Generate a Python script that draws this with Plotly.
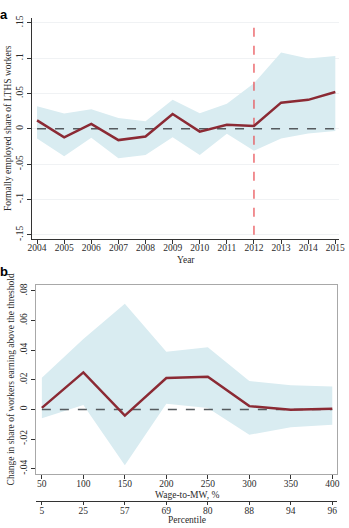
import plotly.graph_objects as go

# Panel a data
years = [2004, 2005, 2006, 2007, 2008, 2009, 2010, 2011, 2012, 2013, 2014, 2015]
coef_a = [0.012, -0.012, 0.007, -0.016, -0.011, 0.021, -0.004, 0.0056, 0.004, 0.037, 0.041, 0.052]
upper_a = [0.032, 0.0215, 0.0276, 0.0154, 0.0107, 0.041, 0.022, 0.0355, 0.0645, 0.108, 0.0995, 0.103]
lower_a = [-0.0136, -0.039, -0.0126, -0.0416, -0.037, -0.012, -0.037, -0.007, -0.031, -0.0136, -0.0066, -0.003]
policy_year = 2012
ytick_a = [-0.15, -0.1, -0.05, 0, 0.05, 0.1, 0.15]
ytext_a = ["-.15", "-.1", "-.05", "0", ".05", ".1", ".15"]

# Panel b data
wage_mw = [50, 100, 150, 200, 250, 300, 350, 400]
percentile = ["5", "25", "57", "69", "80", "88", "94", "96"]
coef_b = [0.001, 0.025, -0.0042, 0.0212, 0.022, 0.0022, -0.0002, 0.0004]
upper_b = [0.0214, 0.0475, 0.0713, 0.039, 0.042, 0.0192, 0.0163, 0.0154]
lower_b = [-0.006, 0.0029, -0.0377, 0.0038, 0.001, -0.0172, -0.012, -0.0103]
ytick_b = [-0.04, -0.02, 0, 0.02, 0.04, 0.06, 0.08]
ytext_b = ["-.04", "-.02", "0", ".02", ".04", ".06", ".08"]

LINE = "#8b2a34"
BAND = "#d9ecf1"
FONT = "Liberation Serif"
TXT = "#2b2b2b"

fig = go.Figure()

# Panel a
fig.add_trace(go.Scatter(x=years, y=lower_a, mode="lines", line=dict(width=0, color=BAND),
                         hoverinfo="skip", showlegend=False, xaxis="x", yaxis="y"))
fig.add_trace(go.Scatter(x=years, y=upper_a, mode="lines", line=dict(width=0, color=BAND),
                         fill="tonexty", fillcolor=BAND, showlegend=False, xaxis="x", yaxis="y"))
fig.add_trace(go.Scatter(x=[years[0], years[-1]], y=[0, 0], mode="lines",
                         line=dict(color="#555a5e", width=1.5, dash="dash"),
                         showlegend=False, xaxis="x", yaxis="y"))
fig.add_trace(go.Scatter(x=[policy_year, policy_year], y=[ytick_a[0], ytick_a[-1]], mode="lines",
                         line=dict(color="#e8474c", width=1.2, dash="dash"),
                         showlegend=False, xaxis="x", yaxis="y"))
fig.add_trace(go.Scatter(x=years, y=coef_a, mode="lines", line=dict(color=LINE, width=2.5),
                         showlegend=False, xaxis="x", yaxis="y"))

# Panel b
fig.add_trace(go.Scatter(x=wage_mw, y=lower_b, mode="lines", line=dict(width=0, color=BAND),
                         hoverinfo="skip", showlegend=False, xaxis="x2", yaxis="y2"))
fig.add_trace(go.Scatter(x=wage_mw, y=upper_b, mode="lines", line=dict(width=0, color=BAND),
                         fill="tonexty", fillcolor=BAND, showlegend=False, xaxis="x2", yaxis="y2"))
fig.add_trace(go.Scatter(x=[wage_mw[0], wage_mw[-1]], y=[0, 0], mode="lines",
                         line=dict(color="#555a5e", width=1.5, dash="dash"),
                         showlegend=False, xaxis="x2", yaxis="y2"))
fig.add_trace(go.Scatter(x=wage_mw, y=coef_b, mode="lines", line=dict(color=LINE, width=2.5),
                         showlegend=False, xaxis="x2", yaxis="y2"))
# invisible trace for percentile axis
fig.add_trace(go.Scatter(x=wage_mw, y=coef_b, mode="lines", line=dict(width=0),
                         opacity=0, hoverinfo="skip", showlegend=False, xaxis="x3", yaxis="y2"))

W, H = 349, 528
tickfont = dict(family=FONT, size=9.5, color=TXT)
titlefont = dict(family=FONT, size=9.5, color=TXT)

fig.update_layout(
    width=W, height=H, margin=dict(l=0, r=0, t=0, b=0),
    paper_bgcolor="white", plot_bgcolor="white",
    font=dict(family=FONT, color=TXT),
    xaxis=dict(domain=[29 / W, 345 / W], anchor="y", range=[2003.82, 2015.14],
               tickvals=years, ticks="outside", ticklen=4, tickcolor="#333",
               showline=True, linecolor="#333", linewidth=1, showgrid=False, zeroline=False,
               tickfont=tickfont, ticklabeloverflow="allow", ticklabelstandoff=-4),
    yaxis=dict(domain=[1 - 238 / H, 1 - 15 / H], anchor="x", range=[-0.1556, 0.157],
               tickvals=ytick_a, ticktext=ytext_a, tickangle=-90, ticks="outside", ticklen=4,
               tickcolor="#333", showline=True, linecolor="#333", linewidth=1,
               showgrid=True, gridcolor="#f0f2f4", gridwidth=1, zeroline=False,
               tickfont=tickfont,
               title=dict(text="Formally employed share of LTHS workers", font=titlefont, standoff=2)),
    xaxis2=dict(domain=[33 / W, 343 / W], anchor="y2", range=[43, 405.9],
                tickvals=wage_mw, ticks="outside", ticklen=4, tickcolor="#333",
                showline=True, linecolor="#a8a8a8", linewidth=1, mirror=True,
                showgrid=False, zeroline=False, tickfont=tickfont, ticklabelstandoff=-3),
    yaxis2=dict(domain=[1 - 475 / H, 1 - 285 / H], anchor="x2", range=[-0.0433, 0.0838],
                tickvals=ytick_b, ticktext=ytext_b, tickangle=-90, ticks="outside", ticklen=4,
                tickcolor="#333", showline=True, linecolor="#a8a8a8", linewidth=1, mirror=True,
                showgrid=False, zeroline=False, tickfont=tickfont,
                title=dict(text="Change in share of workers earning above the threshold",
                           font=titlefont, standoff=2)),
    xaxis3=dict(domain=[33 / W, 343 / W], anchor="free", position=1 - 503 / H,
                overlaying="x2", range=[43, 405.9], tickvals=wage_mw, ticktext=percentile,
                ticks="outside", ticklen=3, tickcolor="#333", showline=True,
                linecolor="#333", linewidth=1, showgrid=False, zeroline=False,
                tickfont=tickfont, ticklabelstandoff=-3),
)

def title_ann(text, xc, yc):
    fig.add_annotation(text=text, x=xc / W, y=1 - yc / H, xref="paper", yref="paper",
                       xanchor="center", yanchor="middle", showarrow=False,
                       font=titlefont)

title_ann("Year", 187, 259)
title_ann("Wage-to-MW, %", 188, 497)
title_ann("Percentile", 188, 522)

fig.add_annotation(text="<b>a</b>", x=-6 / W, y=1 - 2 / H, xref="paper", yref="paper",
                   xanchor="left", yanchor="top", showarrow=False,
                   font=dict(family="Liberation Sans", size=13, color="black"))
fig.add_annotation(text="<b>b</b>", x=-6 / W, y=1 - 261 / H, xref="paper", yref="paper",
                   xanchor="left", yanchor="top", showarrow=False,
                   font=dict(family="Liberation Sans", size=13, color="black"))

fig.write_html("out.html")
